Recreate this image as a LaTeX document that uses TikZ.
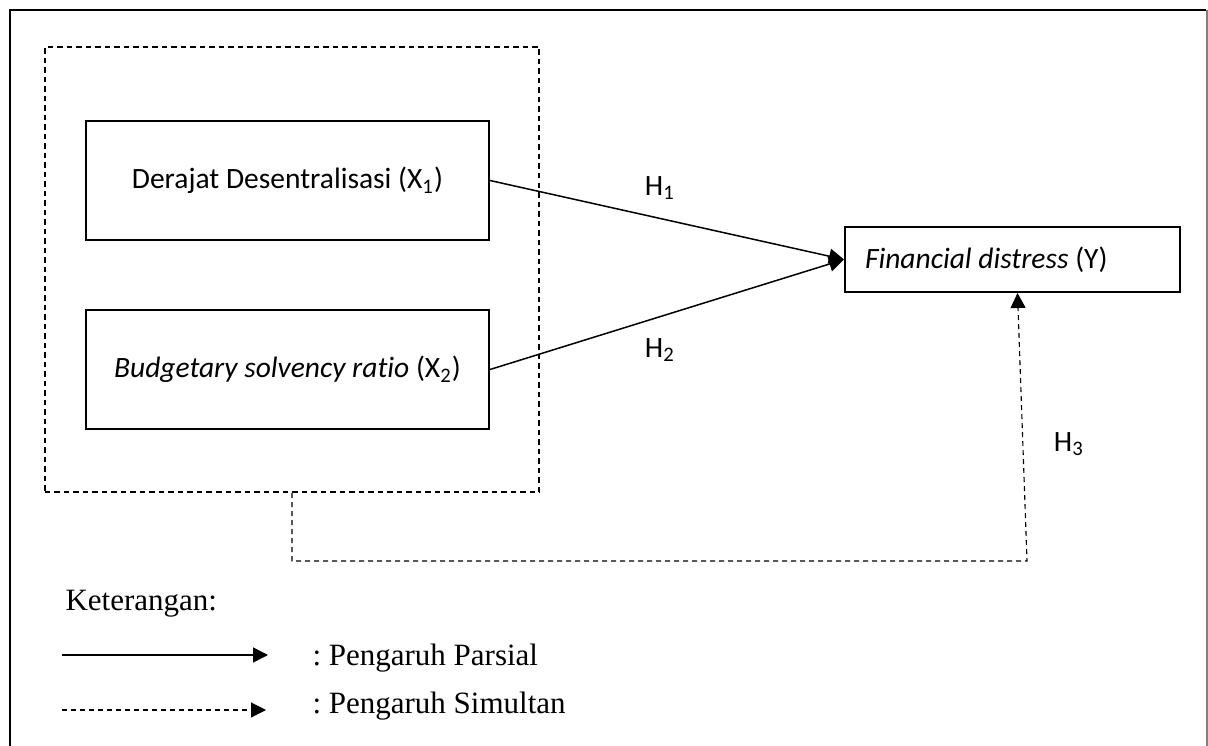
\documentclass[tikz,border=0pt]{standalone}
\usepackage{fontspec}
\setmainfont{Liberation Serif}
\newfontfamily\calibri[Ligatures=NoCommon]{Carlito}
\usetikzlibrary{arrows.meta, positioning}
\frenchspacing

\begin{document}
\begin{tikzpicture}[x=0.4pt, y=-0.4pt, font=\calibri\fontsize{11.8}{14}\selectfont,
      box/.style={draw, line width=0.8pt, minimum width=161.2pt, minimum height=47.6pt,
                  inner sep=0pt, align=center},
      ybox/.style={draw, line width=0.8pt, minimum height=26pt, text width=118pt,
                   inner xsep=8pt, inner ysep=0pt, align=flush left},
      grpbox/.style={draw, line width=0.8pt, dash pattern=on 2.2pt off 1.6pt,
                     minimum width=197.6pt, minimum height=178pt},
      arr/.style={line width=0.6pt, -{Triangle[length=6pt,width=6pt]}},
      dsharr/.style={arr, line width=0.45pt, dash pattern=on 2pt off 1.6pt},
      lbl/.style={font=\normalfont\fontsize{12.4}{15}\selectfont, inner sep=0pt}]
    \useasboundingbox (0,0) rectangle (1208,746);
    % frame, open at the bottom
    \draw[line width=0.8pt] (10,746) -- (10,10) -- (1206,10);
    \draw[line width=0.8pt, gray] (1206.5,10) -- (1206.5,746);

    \node[grpbox] (grp) at (292,269.5) {};
    \node[box] (x1) at (287.5,180.5) {Derajat Desentralisasi (X\textsubscript{1})};
    \node[box, below=27.2pt of x1] (x2) {\textit{Budgetary solvency ratio} (X\textsubscript{2})};
    \node[ybox] (fy) at (1012.5,259.5) {\textit{Financial distress} (Y)};

    \node (h1) at (660,188) {H\textsubscript{1}};
    \node (h2) at (660,350) {H\textsubscript{2}};
    \node (h3) at (1069,444) {H\textsubscript{3}};

    \draw[arr] (x1.east) -- (fy.west);
    \draw[arr] (x2.east) -- (fy.west);
    \coordinate (h3c) at (1027,561);
    \draw[dsharr] (grp.south) |- (h3c) -- ([xshift=2pt]fy.south);

    % legend
    \node[lbl, anchor=base west] (ket) at (65,610) {Keterangan:};
    \coordinate (l1a) at (62,655); \coordinate (l1b) at (268,655);
    \coordinate (l2a) at (62,710); \coordinate (l2b) at (266,710);
    \draw[arr] (l1a) -- (l1b);
    \draw[dsharr] (l2a) -- (l2b);
    \node[lbl, anchor=base west] (parsial) at (312,665) {: Pengaruh Parsial};
    \node[lbl, anchor=base west] (simultan) at (312,713) {: Pengaruh Simultan};
  \end{tikzpicture}
\end{document}
